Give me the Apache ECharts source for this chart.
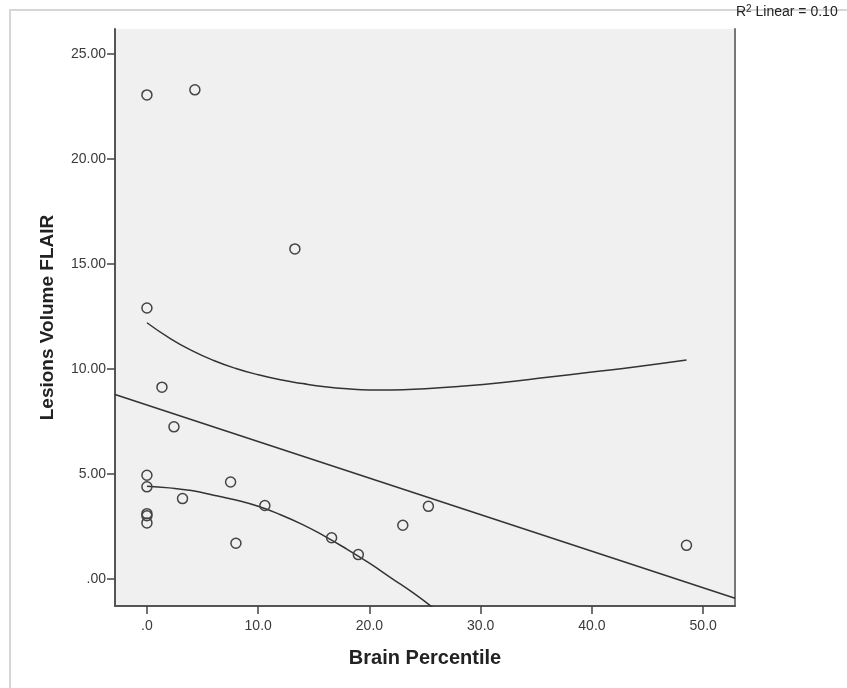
<!DOCTYPE html>
<html>
<head>
<meta charset="utf-8">
<script src="https://cdn.jsdelivr.net/npm/echarts@6/dist/echarts.min.js"></script>
<style>html,body{margin:0;padding:0;background:#fff}#c{width:847px;height:688px}</style>
</head>
<body>
<div id="c"></div>
<script>
// Scatter data: Brain Percentile (x) vs Lesions Volume FLAIR (y)
const brainPercentile = [0, 4.31, 13.3, 0, 1.35, 2.43, 0, 0, 0, 0, 0, 3.2, 7.52, 8.0, 10.6, 16.6, 19.0, 23.0, 25.3, 48.5];
const lesionVolume   = [23.06, 23.3, 15.72, 12.9, 9.13, 7.24, 4.93, 4.38, 3.1, 3.0, 2.66, 3.82, 4.61, 1.69, 3.49, 1.95, 1.15, 2.55, 3.45, 1.59];

// Upper curved line
const upperX = [0, 2, 4, 6, 8, 10, 12, 14, 16, 18, 20, 22, 25, 28, 32, 36, 40, 44, 48.5];
const upperY = [12.2, 11.48, 10.88, 10.4, 10.02, 9.72, 9.48, 9.3, 9.15, 9.05, 9.0, 9.0, 9.06, 9.16, 9.35, 9.6, 9.85, 10.1, 10.42];

// Lower curved line
const lowerX = [0, 2, 4, 6, 8, 10, 12, 14, 16, 18, 20, 22, 24, 26];
const lowerY = [4.41, 4.33, 4.2, 3.98, 3.75, 3.45, 3.05, 2.58, 2.02, 1.4, 0.74, 0.02, -0.7, -1.5];

const xTicks = [0, 10, 20, 30, 40, 50];
const yTicks = [0, 5, 10, 15, 20, 25];
const xMin = -2.87, xMax = 52.86, yMin = -1.3, yMax = 26.2;
const r2Text = 'Linear = 0.10';

// OLS fit from the scatter data
const n = brainPercentile.length;
const mx = brainPercentile.reduce((a, b) => a + b, 0) / n;
const my = lesionVolume.reduce((a, b) => a + b, 0) / n;
let sxy = 0, sxx = 0;
for (let i = 0; i < n; i++) { sxy += (brainPercentile[i] - mx) * (lesionVolume[i] - my); sxx += (brainPercentile[i] - mx) ** 2; }
const slope = sxy / sxx, intercept = my - slope * mx;
const fitLine = [[xMin, intercept + slope * xMin], [xMax, intercept + slope * xMax]];

const chart = echarts.init(document.getElementById('c'));
const txt = '#3a3a3a';
const ff = 'Liberation Sans, Arial, sans-serif';
chart.setOption({
  animation: false,
  textStyle: { fontFamily: ff },
  grid: { left: 115, top: 29, right: 112, bottom: 82, show: true, backgroundColor: '#f0f0f0', borderWidth: 0 },
  graphic: [
    { type: 'rect', shape: { x: 10, y: 10, width: 900, height: 720 }, style: { fill: 'none', stroke: '#d6d6d6', lineWidth: 2 }, z: -1 },
    { type: 'text', left: 736, top: 4, style: { rich: { s: { fontSize: 10, verticalAlign: 'top', padding: [0, 0, 7, 0], fill: '#222', fontFamily: ff }, n: { fontSize: 14, fill: '#222', fontFamily: ff } }, text: '{n|R}{s|2}{n| ' + r2Text + '}', fontFamily: ff } }
  ],
  xAxis: {
    type: 'value', min: xMin, max: xMax,
    name: 'Brain Percentile', nameLocation: 'middle', nameGap: 42,
    nameTextStyle: { fontSize: 20, fontWeight: 'bold', color: '#222' },
    axisLine: { show: true, onZero: false, lineStyle: { color: '#555', width: 2 } },
    axisTick: { show: true, length: 8, lineStyle: { color: '#444', width: 1.5 }, customValues: xTicks },
    axisLabel: { color: txt, fontSize: 14, margin: 13, customValues: xTicks, formatter: v => v === 0 ? '.0' : v.toFixed(1) },
    splitLine: { show: false }
  },
  yAxis: [{
    type: 'value', min: yMin, max: yMax,
    name: 'Lesions Volume FLAIR', nameLocation: 'middle', nameGap: 58, nameRotate: 90,
    nameTextStyle: { fontSize: 19, fontWeight: 'bold', color: '#222' },
    axisLine: { show: true, onZero: false, lineStyle: { color: '#555', width: 2 } },
    axisTick: { show: true, length: 8, lineStyle: { color: '#444', width: 1.5 }, customValues: yTicks },
    axisLabel: { color: txt, fontSize: 14, margin: 9, customValues: yTicks, formatter: v => v === 0 ? '.00' : v.toFixed(2) },
    splitLine: { show: false }
  }, {
    type: 'value', min: yMin, max: yMax, position: 'right',
    axisLine: { show: true, onZero: false, lineStyle: { color: '#777', width: 2 } },
    axisTick: { show: false }, axisLabel: { show: false }, splitLine: { show: false }
  }],
  series: [
    { type: 'scatter', data: brainPercentile.map((x, i) => [x, lesionVolume[i]]), symbol: 'circle', symbolSize: 10,
      itemStyle: { color: 'rgba(0,0,0,0)', borderColor: '#444', borderWidth: 1.5, opacity: 1 }, z: 5 },
    { type: 'line', data: fitLine, showSymbol: false, lineStyle: { color: '#333', width: 1.5 }, clip: true },
    { type: 'line', data: upperX.map((x, i) => [x, upperY[i]]), smooth: true, showSymbol: false, lineStyle: { color: '#333', width: 1.5 }, clip: true },
    { type: 'line', data: lowerX.map((x, i) => [x, lowerY[i]]), smooth: true, showSymbol: false, lineStyle: { color: '#333', width: 1.5 }, clip: true }
  ]
});
</script>
</body>
</html>
